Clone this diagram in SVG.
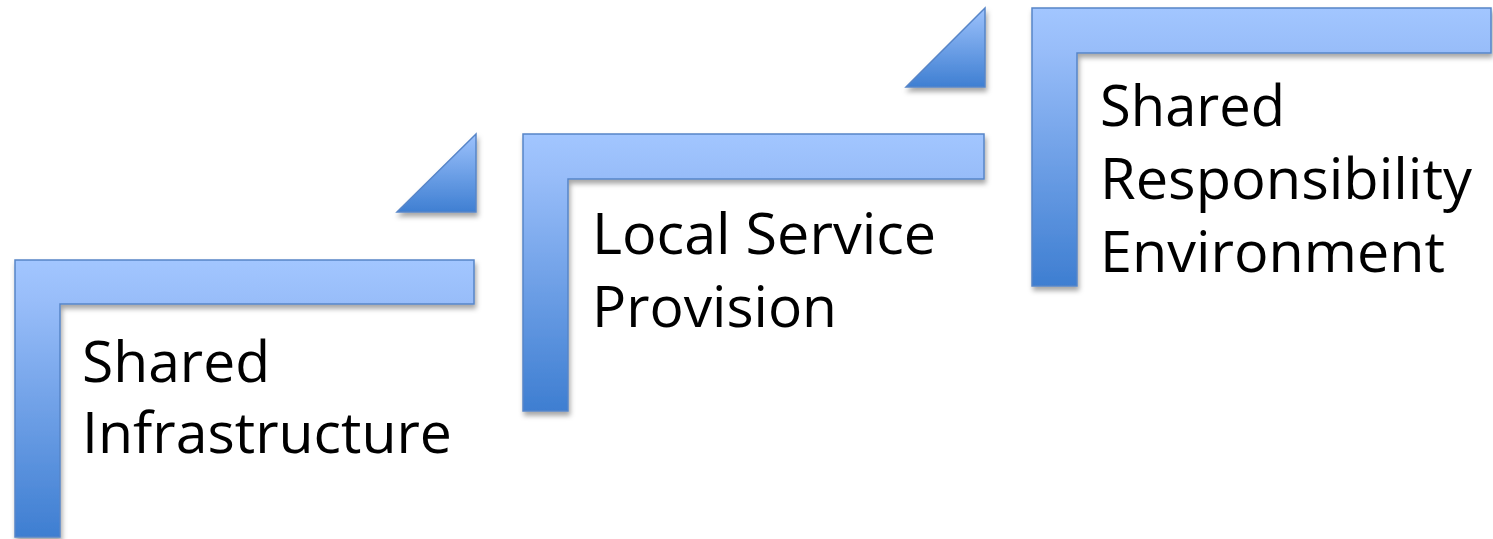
<svg xmlns="http://www.w3.org/2000/svg" width="1493" height="539" viewBox="0 0 1493 539">
<defs>
<linearGradient id="g" x1="0" y1="0" x2="0" y2="1">
<stop offset="0" stop-color="#a2c6ff"/>
<stop offset="0.15" stop-color="#98bdf9"/>
<stop offset="1" stop-color="#3e7ed1"/>
</linearGradient>
<linearGradient id="gt" x1="0" y1="0" x2="0" y2="1">
<stop offset="0" stop-color="#9dc2fc"/>
<stop offset="1" stop-color="#3f7fd2"/>
</linearGradient>
<filter id="sh" x="-10%" y="-10%" width="125%" height="125%">
<feDropShadow dx="1.5" dy="4" stdDeviation="2.5" flood-color="#000" flood-opacity="0.35"/>
</filter>
</defs>
<style>
.step{fill:url(#g);stroke:#5785c8;stroke-width:1.5;filter:url(#sh)}
.tri{fill:url(#gt);stroke:#5785c8;stroke-width:1.5;filter:url(#sh)}
.lbl{font-family:"Open Sans","Noto Sans","Liberation Sans",sans-serif;font-size:56px;fill:#000}
</style>
<g id="connectors">
<polygon class="tri" points="476,134 476,212 397,212"/>
<polygon class="tri" points="985,8 985,87 906,87"/>
</g>
<g id="node-shared-infrastructure">
<path class="step" d="M15,260 H474 V304 H60 V537 H15 Z"/>
<text class="lbl" x="82" y="382" textLength="188" lengthAdjust="spacingAndGlyphs">Shared</text>
<text class="lbl" x="82" y="453" textLength="370" lengthAdjust="spacingAndGlyphs">Infrastructure</text>
</g>
<g id="node-local-service-provision">
<path class="step" d="M523,134 H984 V179 H568 V411 H523 Z"/>
<text class="lbl" x="592" y="254" textLength="344" lengthAdjust="spacingAndGlyphs">Local Service</text>
<text class="lbl" x="592" y="327" textLength="245" lengthAdjust="spacingAndGlyphs">Provision</text>
</g>
<g id="node-shared-responsibility-environment">
<path class="step" d="M1032,8 H1491 V53 H1077 V286 H1032 Z"/>
<text class="lbl" x="1100" y="126" textLength="185" lengthAdjust="spacingAndGlyphs">Shared</text>
<text class="lbl" x="1100" y="199" textLength="372" lengthAdjust="spacingAndGlyphs">Responsibility</text>
<text class="lbl" x="1100" y="272" textLength="345" lengthAdjust="spacingAndGlyphs">Environment</text>
</g>
</svg>
